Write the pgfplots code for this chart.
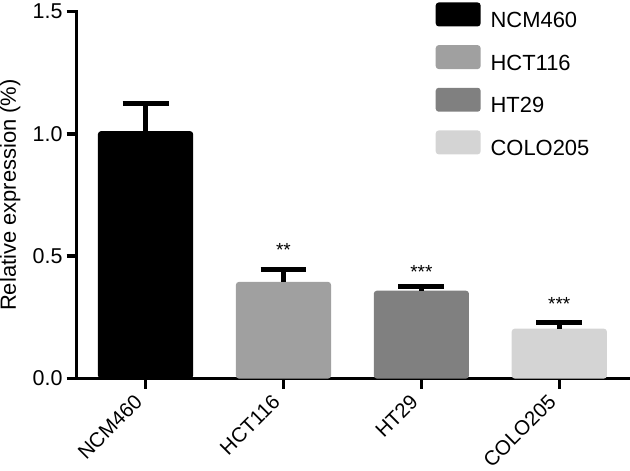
\documentclass[border=0pt]{standalone}
\usepackage{fontspec}
\setmainfont{Liberation Sans}
\usepackage{pgfplots}
\pgfplotsset{compat=1.18}
\definecolor{cNCM}{HTML}{000000}
\definecolor{cHCT}{HTML}{A0A0A0}
\definecolor{cHT}{HTML}{808080}
\definecolor{cCOLO}{HTML}{D4D4D4}

\begin{document}
\fontsize{21}{24}\selectfont
\begin{tikzpicture}
\begin{axis}[
    scale only axis,
    width=553pt, height=368pt,
    xmin=-0.5, xmax=3.5,
    ymin=0, ymax=1.5,
    axis x line*=bottom,
    axis y line*=left,
    axis line style={line width=3.5pt, line cap=rect},
    ybar, bar shift=0pt, bar width=0.69,
    ytick={0,0.5,1,1.5},
    yticklabel style={inner sep=4pt, font=\fontsize{21.5}{24}\selectfont,
        /pgf/number format/.cd, fixed, fixed zerofill, precision=1},
    /pgf/number format/assume math mode=true,
    xtick={0,1,2,3},
    xticklabels={NCM460,HCT116,HT29,COLO205},
    xticklabel style={rotate=45, anchor=east, inner sep=1pt, xshift=-11pt, yshift=-2pt,
        font=\fontsize{20.5}{22}\selectfont},
    tick align=outside,
    major tick length=10pt,
    tick style={line width=3.5pt, black},
    ylabel={Relative expression (\%)},
    ylabel style={inner sep=0pt, yshift=8pt, font=\fontsize{22}{24}\selectfont},
    legend image code/.code={\fill[#1, draw=none, rounded corners=3pt] (0pt,-5pt) rectangle (45pt,19pt);},
    legend cell align=left,
    legend style={at={(rel axis cs:0.651,1.0245)}, anchor=north west, draw=none, fill=none,
        inner sep=0pt, outer sep=0pt,
        row sep=12.5pt, font=\fontsize{22}{24}\selectfont,
        /tikz/every odd column/.append style={column sep=8pt}},
    error bars/y dir=plus,
    error bars/y explicit,
    error bars/error bar style={line width=5pt, black},
    error bars/error mark options={rotate=90, line width=5pt, black, mark size=23pt},
]
\addplot[fill=cNCM, draw=none, rounded corners=3pt] coordinates {(0,1.011) +- (0,0.114)};
\addlegendentry{NCM460}
\addplot[fill=cHCT, draw=none, rounded corners=3pt] coordinates {(1,0.395) +- (0,0.052)};
\addlegendentry{HCT116}
\addplot[fill=cHT, draw=none, rounded corners=3pt] coordinates {(2,0.359) +- (0,0.016)};
\addlegendentry{HT29}
\addplot[fill=cCOLO, draw=none, rounded corners=3pt] coordinates {(3,0.204) +- (0,0.024)};
\addlegendentry{COLO205}

\node[anchor=base, font=\fontsize{19}{19}\selectfont] at (axis cs:1,0.500) {**};
\node[anchor=base, font=\fontsize{19}{19}\selectfont] at (axis cs:2,0.410) {***};
\node[anchor=base, font=\fontsize{19}{19}\selectfont] at (axis cs:3,0.277) {***};
\end{axis}
\end{tikzpicture}
\end{document}
